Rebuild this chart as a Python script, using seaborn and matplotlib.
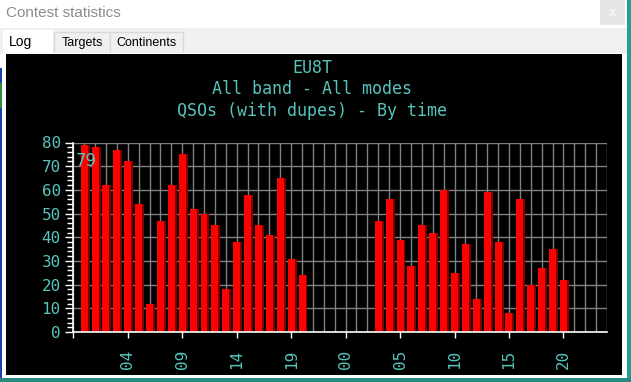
import numpy as np
import pandas as pd
import seaborn as sns
import matplotlib
matplotlib.use("Agg")
import matplotlib.pyplot as plt
from matplotlib.patches import Rectangle
import matplotlib.patheffects as pe
from matplotlib.ticker import MultipleLocator

# ---- data ----
hours = list(range(45))  # hours since contest start (00 UTC day 1)
qsos = [79, 78, 62, 77, 72, 54, 12, 47, 62, 75, 52, 50, 45, 18, 38, 58, 45, 41, 65, 31, 24,
        0, 0, 0, 0, 0, 0,
        47, 56, 39, 28, 45, 42, 60, 25, 37, 14, 59, 38, 8, 56, 20, 27, 35, 22]
tick_hours = [-1, 4, 9, 14, 19, 24, 29, 34, 39, 44]
tick_labels = ["", "04", "09", "14", "19", "00", "05", "10", "15", "20"]
title_lines = ["EU8T", "All band - All modes", "QSOs (with dupes) - By time"]
max_label = "79"
window_title = "Contest statistics"
tabs = ["Log", "Targets", "Continents"]

df = pd.DataFrame({"hour": hours, "qsos": qsos})

TEAL = "#56c4bc"
W, H = 631, 382
fig = plt.figure(figsize=(W / 100, H / 100), dpi=100)
fig.patch.set_facecolor("white")

# ---- window chrome in pixel coordinates ----
bg = fig.add_axes([0, 0, 1, 1])
bg.set_xlim(0, W)
bg.set_ylim(H, 0)
bg.axis("off")
bg.add_patch(Rectangle((0, 0), W, 28, facecolor="white", edgecolor="none"))
bg.add_patch(Rectangle((0, 28), W, 26, facecolor="#f0f0f0", edgecolor="none"))
bg.add_patch(Rectangle((600, 0), 25, 25, facecolor="#e6e6e6", edgecolor="none"))
bg.text(612.5, 12.5, "x", color="white", fontsize=9, ha="center", va="center")
bg.text(6, 13, window_title, color="#8c8c8c", fontsize=11,
        family=["Liberation Sans Narrow", "Liberation Sans"], va="center", ha="left")
# tabs
bg.add_patch(Rectangle((3, 30), 50, 24, facecolor="white", edgecolor="none"))
bg.add_patch(Rectangle((54, 32), 56, 22, facecolor="#f0f0f0", edgecolor="#d9d9d9", lw=1))
bg.add_patch(Rectangle((110, 32), 73, 22, facecolor="#f0f0f0", edgecolor="#d9d9d9", lw=1))
bg.text(9, 42, tabs[0], fontsize=10, family="Liberation Sans", va="center", ha="left", color="black")
bg.text(82, 43, tabs[1], fontsize=9, family="Liberation Sans", va="center", ha="center", color="black")
bg.text(146.5, 43, tabs[2], fontsize=9, family="Liberation Sans", va="center", ha="center", color="black")
# black panel and frame
bg.add_patch(Rectangle((3, 53), 620, 324, facecolor="white", edgecolor="none"))
bg.add_patch(Rectangle((6, 54), 616, 321, facecolor="black", edgecolor="none"))
# right side teal strip and bottom line
bg.add_patch(Rectangle((627, 0), 4, H, facecolor="#2a9d8f", edgecolor="none"))
bg.add_patch(Rectangle((0, 378), W, 4, facecolor="#2a8a80", edgecolor="none"))
bg.add_patch(Rectangle((0, 68), 2, 310, facecolor="#1f3fb0", edgecolor="none"))
bg.add_patch(Rectangle((0, 83), 2, 25, facecolor="#2e8b3e", edgecolor="none"))

for i, line in enumerate(title_lines):
    fig.text(312 / W, 1 - (68 + i * 21.5) / H, line, color=TEAL, fontsize=12,
             family="DejaVu Sans Mono", ha="center", va="center")

# ---- chart ----
ax = fig.add_axes([73.3 / W, 1 - 332 / H, (607 - 73.3) / W, (332 - 142.5) / H])
ax.set_facecolor("black")
sns.barplot(data=df, x="hour", y="qsos", native_scale=True, width=0.64,
            color="#ff0000", saturation=1, ax=ax)
for p in ax.patches:
    p.set_edgecolor("none")
    p.set_path_effects([pe.SimplePatchShadow(offset=(1.4, 0), shadow_rgbFace="#800000", alpha=1.0),
                        pe.Normal()])

ax.set_xlim(-1, 48)
ax.set_ylim(0, 80)
ax.set_xlabel("")
ax.set_ylabel("")
ax.set_xticks(tick_hours)
ax.set_xticklabels(tick_labels, rotation=90)
ax.xaxis.set_minor_locator(MultipleLocator(1))
ax.yaxis.set_major_locator(MultipleLocator(10))
ax.yaxis.set_minor_locator(MultipleLocator(2))
ax.set_axisbelow(True)
ax.grid(False)
ax.xaxis.grid(True, which="both", color="#808080", lw=1)
ax.yaxis.grid(True, which="major", color="#808080", lw=1)
for s in ["top", "right"]:
    ax.spines[s].set_visible(False)
for s in ["left", "bottom"]:
    ax.spines[s].set_color("white")
    ax.spines[s].set_linewidth(1.2)
ax.tick_params(axis="x", which="major", colors="white", length=4, width=1, pad=9,
               labelcolor=TEAL, labelsize=11.5)
ax.tick_params(axis="x", which="minor", length=0)
ax.tick_params(axis="y", which="major", colors="white", length=6, width=1, pad=3,
               labelcolor=TEAL, labelsize=11.5)
ax.tick_params(axis="y", which="minor", colors="white", length=4, width=1)
for lab in ax.get_xticklabels() + ax.get_yticklabels():
    lab.set_family("DejaVu Sans Mono")

ax.annotate(max_label, xy=(-1, max(qsos)), xytext=(2, -5), textcoords="offset points",
            color=TEAL, fontsize=12, family="DejaVu Sans", ha="left", va="top")

fig.savefig("out.png", dpi=100, facecolor=fig.get_facecolor())
